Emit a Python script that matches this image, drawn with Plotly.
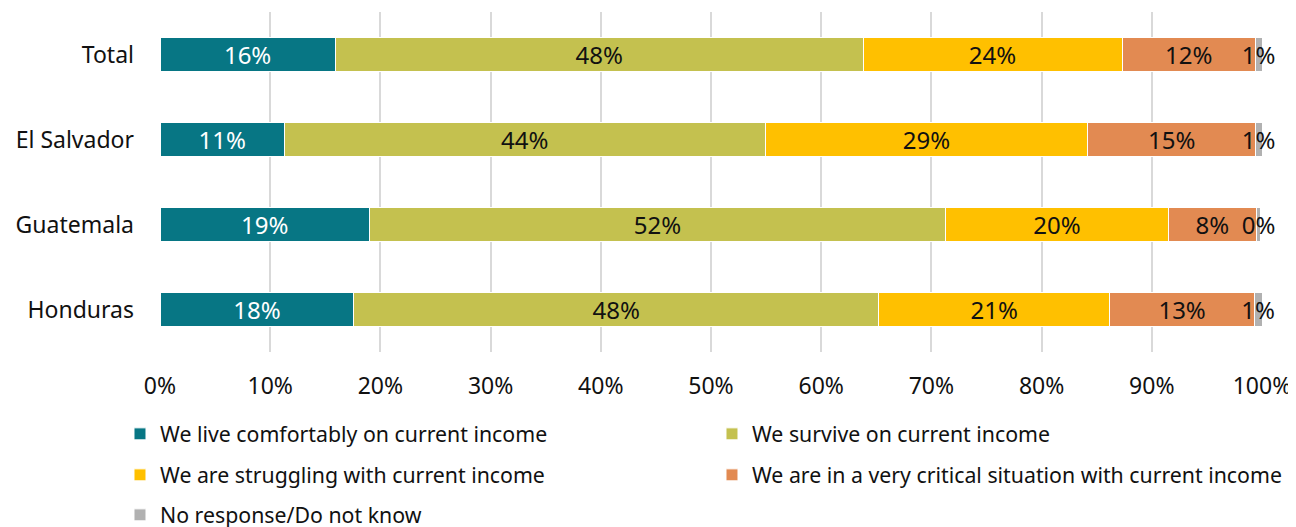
import plotly.graph_objects as go

countries = ["Total", "El Salvador", "Guatemala", "Honduras"]
series_names = [
    "We live comfortably on current income",
    "We survive on current income",
    "We are struggling with current income",
    "We are in a very critical situation with current income",
    "No response/Do not know",
]
comfortable = [15.9, 11.3, 19.0, 17.6]
survive = [47.9, 43.6, 52.3, 47.6]
struggling = [23.5, 29.3, 20.2, 21.0]
critical = [12.1, 15.2, 8.0, 13.1]
no_response = [0.6, 0.6, 0.4, 0.7]

colors = ["#077684", "#C4C14F", "#FFC000", "#E28A52", "#B1B1B1"]
text_colors = ["white", "#111111", "#111111", "#111111", "#111111"]
legend_ids = ["legend", "legend2", "legend3", "legend4", "legend5"]
all_values = [comfortable, survive, struggling, critical, no_response]

FONT = "Noto Sans"
W, H = 1288, 519
fig = go.Figure()
for name, vals, col, tcol, lg in zip(series_names, all_values, colors, text_colors, legend_ids):
    fig.add_trace(go.Bar(
        y=countries, x=vals, name=name, orientation="h",
        marker=dict(color=col, line=dict(color="white", width=1)),
        text=[f"{round(v):.0f}%" for v in vals],
        textposition="inside", insidetextanchor="middle",
        textangle=0, constraintext="none",
        textfont=dict(color=tcol, size=24, family=FONT),
        cliponaxis=False, legend=lg,
    ))

legend_common = dict(orientation="h", xanchor="left", yanchor="middle",
                     yref="container",
                     font=dict(size=21.3, family=FONT, color="#111111"),
                     itemwidth=30, bgcolor="rgba(0,0,0,0)")
col_x = [-0.0363, 0.5009]
row_y = [1 - 426 / H, 1 - 467 / H, 1 - 507 / H]

fig.update_layout(
    barmode="stack", bargap=0.6,
    width=W, height=H,
    margin=dict(l=152, r=34, t=4, b=175, autoexpand=False),
    plot_bgcolor="white", paper_bgcolor="white",
    font=dict(family=FONT, size=20, color="#111111"),
    xaxis=dict(range=[0, 100], dtick=10, ticksuffix="%", showgrid=True,
               gridcolor="#D9D9D9", gridwidth=2, zeroline=False,
               ticklabelstandoff=18, tickfont=dict(size=23), fixedrange=True),
    yaxis=dict(autorange="reversed", ticklabelstandoff=25,
               tickfont=dict(size=23), showgrid=False),
    legend=dict(legend_common, x=col_x[0], y=row_y[0]),
    legend2=dict(legend_common, x=col_x[1], y=row_y[0]),
    legend3=dict(legend_common, x=col_x[0], y=row_y[1]),
    legend4=dict(legend_common, x=col_x[1], y=row_y[1]),
    legend5=dict(legend_common, x=col_x[0], y=row_y[2]),
    showlegend=True,
)
fig.write_html("out.html")
